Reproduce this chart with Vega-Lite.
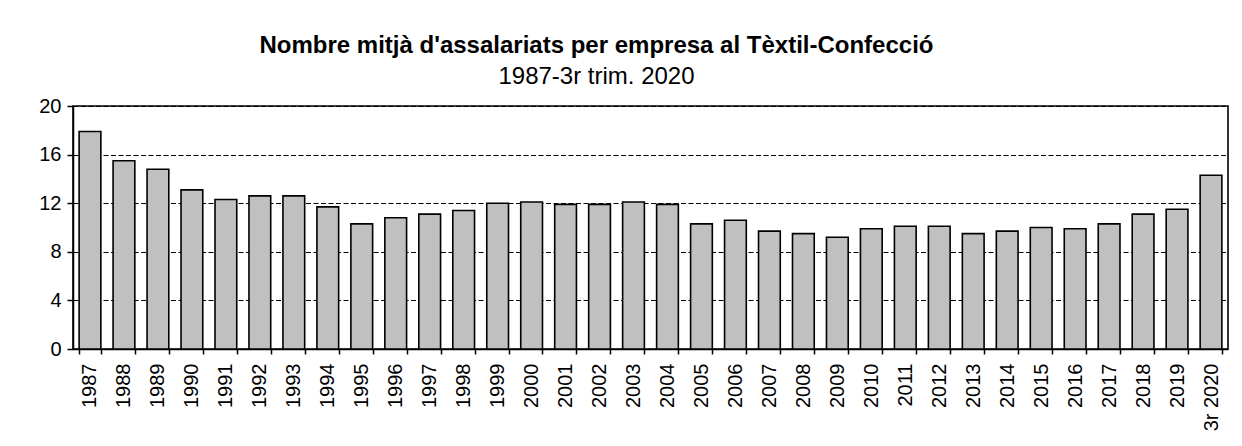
{
  "$schema": "https://vega.github.io/schema/vega-lite/v6.json",
  "autosize": "none",
  "width": 1155,
  "height": 243,
  "padding": {"left": 73, "top": 106, "right": 14, "bottom": 97},
  "background": "white",
  "title": {
    "text": "Nombre mitjà d'assalariats per empresa al Tèxtil-Confecció",
    "subtitle": "1987-3r trim. 2020",
    "anchor": "middle",
    "frame": "group",
    "dx": -54,
    "offset": 7,
    "font": "Liberation Sans",
    "fontSize": 24,
    "fontWeight": "bold",
    "color": "black",
    "subtitleFont": "Liberation Sans",
    "subtitleFontSize": 24,
    "subtitleColor": "black",
    "subtitlePadding": 7
  },
  "data": {
    "values": [
      {"year": "1987", "value": 17.9},
      {"year": "1988", "value": 15.5},
      {"year": "1989", "value": 14.8},
      {"year": "1990", "value": 13.1},
      {"year": "1991", "value": 12.3},
      {"year": "1992", "value": 12.6},
      {"year": "1993", "value": 12.6},
      {"year": "1994", "value": 11.7},
      {"year": "1995", "value": 10.3},
      {"year": "1996", "value": 10.8},
      {"year": "1997", "value": 11.1},
      {"year": "1998", "value": 11.4},
      {"year": "1999", "value": 12.0},
      {"year": "2000", "value": 12.1},
      {"year": "2001", "value": 11.9},
      {"year": "2002", "value": 11.9},
      {"year": "2003", "value": 12.1},
      {"year": "2004", "value": 11.9},
      {"year": "2005", "value": 10.3},
      {"year": "2006", "value": 10.6},
      {"year": "2007", "value": 9.7},
      {"year": "2008", "value": 9.5},
      {"year": "2009", "value": 9.2},
      {"year": "2010", "value": 9.9},
      {"year": "2011", "value": 10.1},
      {"year": "2012", "value": 10.1},
      {"year": "2013", "value": 9.5},
      {"year": "2014", "value": 9.7},
      {"year": "2015", "value": 10.0},
      {"year": "2016", "value": 9.9},
      {"year": "2017", "value": 10.3},
      {"year": "2018", "value": 11.1},
      {"year": "2019", "value": 11.5},
      {"year": "3r 2020", "value": 14.3}
    ]
  },
  "mark": {"type": "bar", "fill": "#c0c0c0", "stroke": "black", "strokeWidth": 1.6},
  "encoding": {
    "x": {
      "field": "year",
      "type": "nominal",
      "sort": null,
      "scale": {"paddingInner": 0.36, "paddingOuter": 0.18},
      "axis": {
        "title": null,
        "labelAngle": -90,
        "labelFont": "Liberation Sans",
        "labelFontSize": 20,
        "labelColor": "black",
        "labelPadding": 9,
        "tickSize": 5,
        "tickBand": "extent",
        "tickColor": "black",
        "tickWidth": 1.5,
        "domainColor": "black",
        "domainWidth": 1.5,
        "grid": false
      }
    },
    "y": {
      "field": "value",
      "type": "quantitative",
      "scale": {"domain": [0, 20], "nice": false},
      "axis": {
        "title": null,
        "values": [0, 4, 8, 12, 16, 20],
        "labelFont": "Liberation Sans",
        "labelFontSize": 20,
        "labelColor": "black",
        "labelPadding": 6,
        "tickSize": 6,
        "tickColor": "black",
        "tickWidth": 1.5,
        "domainColor": "black",
        "domainWidth": 1.5,
        "grid": true,
        "gridColor": "black",
        "gridWidth": 1.1,
        "gridDash": [5, 2.5],
        "gridOpacity": 1
      }
    }
  },
  "config": {
    "view": {"stroke": "black", "strokeWidth": 1.6}
  }
}
